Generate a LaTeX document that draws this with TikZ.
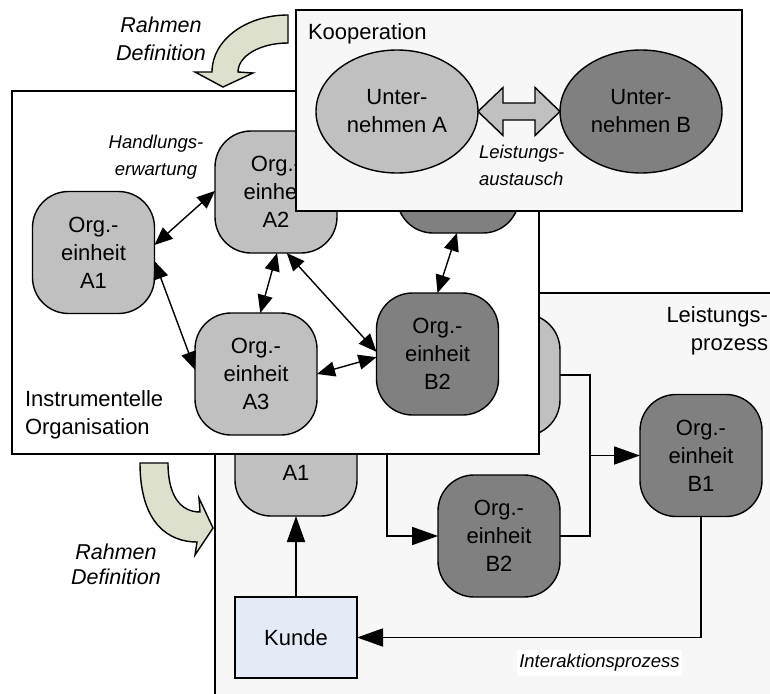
\documentclass[tikz,border=0pt]{standalone}
\usepackage{fontspec}
\setmainfont{Liberation Sans}
\usetikzlibrary{shapes.geometric,arrows.meta,calc}

\definecolor{lightorg}{RGB}{192,192,192}
\definecolor{darkorg}{RGB}{128,128,128}
\definecolor{panel}{RGB}{247,247,247}
\definecolor{kundefill}{RGB}{228,235,247}
\definecolor{framearrow}{RGB}{221,224,204}

\newcommand{\txtbig}{\fontsize{22}{28}\selectfont}
\newcommand{\txtit}{\fontsize{18.5}{27}\selectfont\itshape}
\newcommand{\txtrahmen}{\fontsize{21.5}{28}\selectfont\itshape}
\newcommand{\txtrahmenb}{\fontsize{21.5}{25}\selectfont\itshape}

\begin{document}
\begin{tikzpicture}[x=1pt,y=-1pt,
  every node/.style={inner sep=0pt, outer sep=0pt},
  frame/.style={draw, line width=1.6pt, anchor=north west},
  orgbox/.style={draw, line width=1.4pt, rounded corners=36pt,
    minimum width=122pt, minimum height=122pt, align=center, font=\txtbig},
  orglight/.style={orgbox, fill=lightorg},
  orgdark/.style={orgbox, fill=darkorg},
  firm/.style={ellipse, draw, line width=1.4pt, minimum width=162pt,
    minimum height=123pt, align=center, font=\txtbig},
  rel/.style={line width=1.4pt,
    {Triangle[length=18pt,width=15pt]}-{Triangle[length=18pt,width=15pt]}},
  flowline/.style={line width=1.8pt},
  flow/.style={flowline, -{Triangle[length=26pt,width=18pt]}},
  blockarrow/.style={draw, line width=1.4pt, line join=miter, fill=framearrow}
]
\clip (0,0) rectangle (770,693);
\fill[white] (0,0) rectangle (770,693);

% ---------- Leistungsprozess ----------
\node[frame, fill=panel, minimum width=575pt, minimum height=420pt] (leist) at (215,293) {};
\node[font=\txtbig, align=right, anchor=east] (leistlab) at (768,331) {Leistungs-\\prozess};

\node[orglight, minimum height=142pt] (lA1) at (296,445) {Org.-\\einheit\\A1};
\node[orglight] (lA2) at (499,375) {Org.-\\einheit\\A2};
\node[orgdark] (lB2) at (499,536) {Org.-\\einheit\\B2};
\node[orgdark] (lB1) at (701,455.5) {Org.-\\einheit\\B1};
\node[draw, line width=1.4pt, fill=kundefill, minimum width=122pt,
  minimum height=81pt, font=\txtbig] (kunde) at (296,637.5) {Kunde};
\node[font=\txtit, fill=white, inner xsep=2pt, inner ysep=4pt] (interlab) at (599.5,663) {Interaktionsprozess};

\coordinate (join) at (590,455.5);
\coordinate (split) at (387,445);
\draw[flowline] (lA2.east) -| (join);
\draw[flowline] (lB2.east) -| (join);
\draw[flow] (join) -- (lB1.west);
\draw[flow] (lA1.east) -- (split) |- (lB2.west);
\draw[flow] (kunde.north) -- (lA1.south);
\draw[flow] (lB1.south) |- (kunde.east);

% ---------- Instrumentelle Organisation ----------
\node[frame, fill=white, minimum width=527pt, minimum height=363pt] (instr) at (12,91) {};
\node[font=\txtbig, align=left, anchor=west] (instrlab) at (25,415) {Instrumentelle\\Organisation};
\node[font=\txtit, align=center] (handlab) at (156,157) {Handlungs-\\erwartung};

\node[orglight] (iA1) at (93.5,252.5) {Org.-\\einheit\\A1};
\node[orglight] (iA2) at (276,192) {Org.-\\einheit\\A2};
\node[orgdark]  (iB1) at (458,172) {Org.-\\einheit\\B1};
\node[orglight] (iA3) at (256,374) {Org.-\\einheit\\A3};
\node[orgdark]  (iB2) at (437.5,354) {Org.-\\einheit\\B2};

\draw[rel] (iA1.7) -- (iA2.179);
\draw[rel] (iA1.-8) -- (iA3.176);
\draw[rel] (iA2.-89) -- (iA3.86);
\draw[rel] (iA2.-80) -- (iB2.178);
\draw[rel] (iA3.0) -- (iB2.183);
\draw[rel] (iB1.-91) -- (iB2.90);

% ---------- Kooperation ----------
\node[frame, fill=panel, minimum width=446pt, minimum height=201pt] (koop) at (296,10) {};
\node[font=\txtbig, anchor=west] (kooplab) at (308,34) {Kooperation};
\node[firm, fill=lightorg] (uA) at (397,111.5) {Unter-\\nehmen A};
\node[firm, fill=darkorg] (uB) at (641,111.5) {Unter-\\nehmen B};
\draw[line width=1.4pt, line join=miter, fill=lightorg]
  (uA.east) -- ($(uA.east)+(25,-24)$) -- ($(uA.east)+(25,-8.5)$)
  -- ($(uB.west)+(-25,-8.5)$) -- ($(uB.west)+(-25,-24)$) -- (uB.west)
  -- ($(uB.west)+(-25,24)$) -- ($(uB.west)+(-25,8.5)$)
  -- ($(uA.east)+(25,8.5)$) -- ($(uA.east)+(25,24)$) -- cycle;
\node[font=\txtit, align=left, anchor=west] (austlab) at (479,165) {Leistungs-\\austausch};

% ---------- framing arrows ----------
\draw[blockarrow] (288,15) .. controls (246,15) and (212,40) .. (212,72)
  -- (195,72) -- (223,87) -- (253,73) -- (238,72)
  .. controls (238,56) and (260,43) .. (288,43) -- cycle;
\node[font=\txtrahmen, align=center] (rahmenA) at (161,39) {Rahmen\\Definition};

\draw[blockarrow] (140,463) -- (168,463) .. controls (168,495) and (180,512) .. (200,512)
  -- (199,498) -- (213,528) -- (195,555) -- (197,542)
  .. controls (170,542) and (140,525) .. cycle;
\node[font=\txtrahmenb, align=center] (rahmenB) at (116,564.5) {Rahmen\\Definition};
\end{tikzpicture}
\end{document}
